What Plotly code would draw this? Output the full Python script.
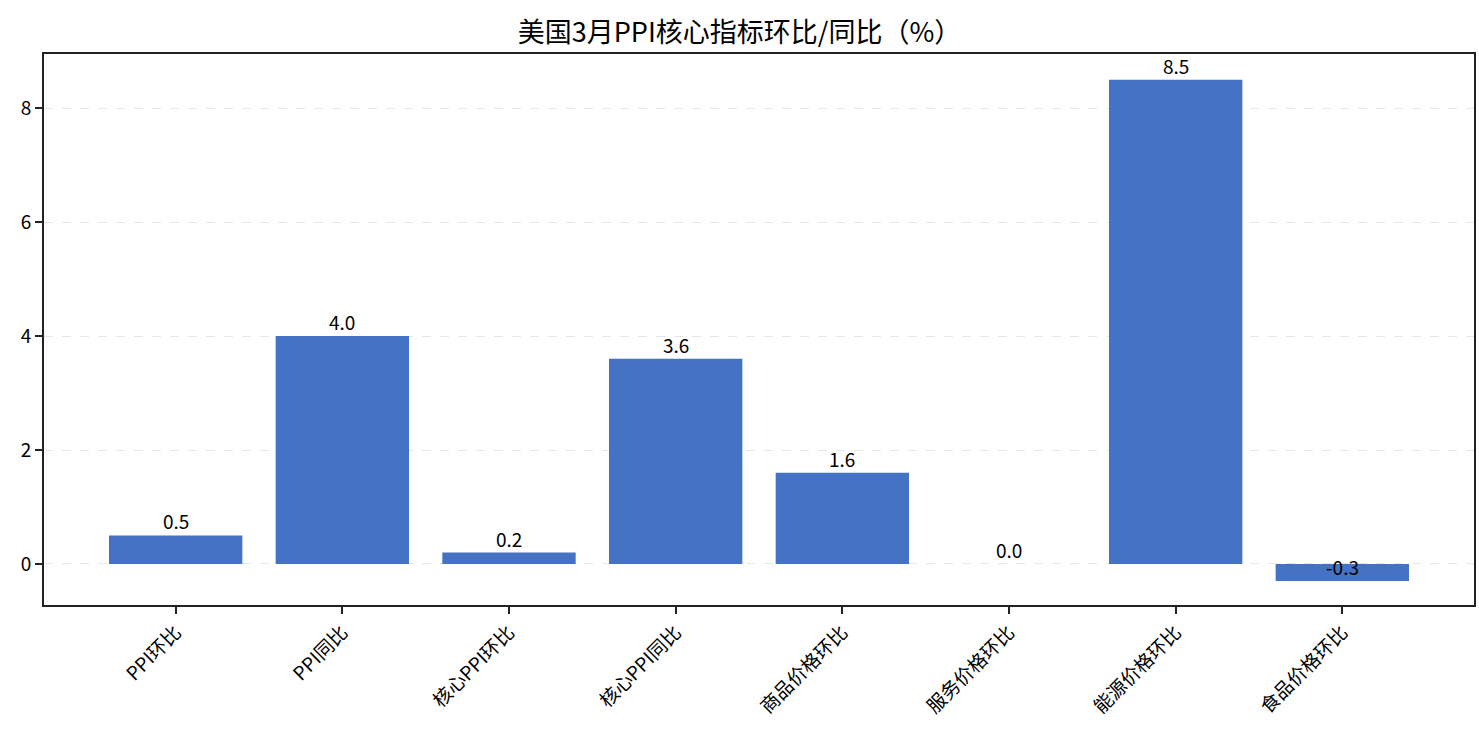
import plotly.graph_objects as go

categories = ["PPI环比", "PPI同比", "核心PPI环比", "核心PPI同比", "商品价格环比", "服务价格环比", "能源价格环比", "食品价格环比"]
values = [0.5, 4.0, 0.2, 3.6, 1.6, 0.0, 8.5, -0.3]
value_labels = [f"{v:.1f}" for v in values]
title_text = "美国3月PPI核心指标环比/同比（%）"
y_ticks = [0, 2, 4, 6, 8]

font_family = "Noto Sans CJK SC, Noto Sans, DejaVu Sans"
x_idx = list(range(len(categories)))

fig = go.Figure()
fig.add_trace(go.Bar(
    x=x_idx, y=values, width=0.8,
    marker=dict(color="#4472C4", line=dict(width=0)),
    hoverinfo="skip",
))

for xi, v, lab in zip(x_idx, values, value_labels):
    fig.add_annotation(x=xi, y=v, text=lab, showarrow=False,
                       yanchor="bottom", yshift=-1,
                       font=dict(family=font_family, size=19, color="black"))

fig.update_layout(
    width=1479, height=729,
    paper_bgcolor="white", plot_bgcolor="white",
    margin=dict(l=44, r=5, t=54, b=124, autoexpand=False),
    title=dict(text=title_text, x=0.5, xanchor="center", y=1 - 33 / 729, yanchor="middle",
               font=dict(family=font_family, size=27, color="black")),
    showlegend=False,
    bargap=0.2,
    font=dict(family=font_family, color="black"),
)
fig.update_xaxes(
    range=[-0.79, 7.79], tickmode="array", tickvals=x_idx, ticktext=categories,
    tickangle=-45, ticks="outside", ticklen=7, tickwidth=1.6, tickcolor="#222",
    showline=True, linecolor="#222", linewidth=1.6, mirror=True,
    showgrid=False, zeroline=False, automargin=False,
    tickfont=dict(family=font_family, size=19, color="black"),
)
fig.update_yaxes(
    range=[-0.72, 8.95], tickmode="array", tickvals=y_ticks,
    ticks="outside", ticklen=7, tickwidth=1.6, tickcolor="#222",
    showline=True, linecolor="#222", linewidth=1.6, mirror=True,
    showgrid=True, gridcolor="#e6e6e6", griddash="dash", gridwidth=1.2,
    zeroline=False, automargin=False,
    tickfont=dict(family=font_family, size=19, color="black"),
)

fig.write_html("out.html", config={"displayModeBar": False},
               post_script="document.body.style.margin='0px';")
